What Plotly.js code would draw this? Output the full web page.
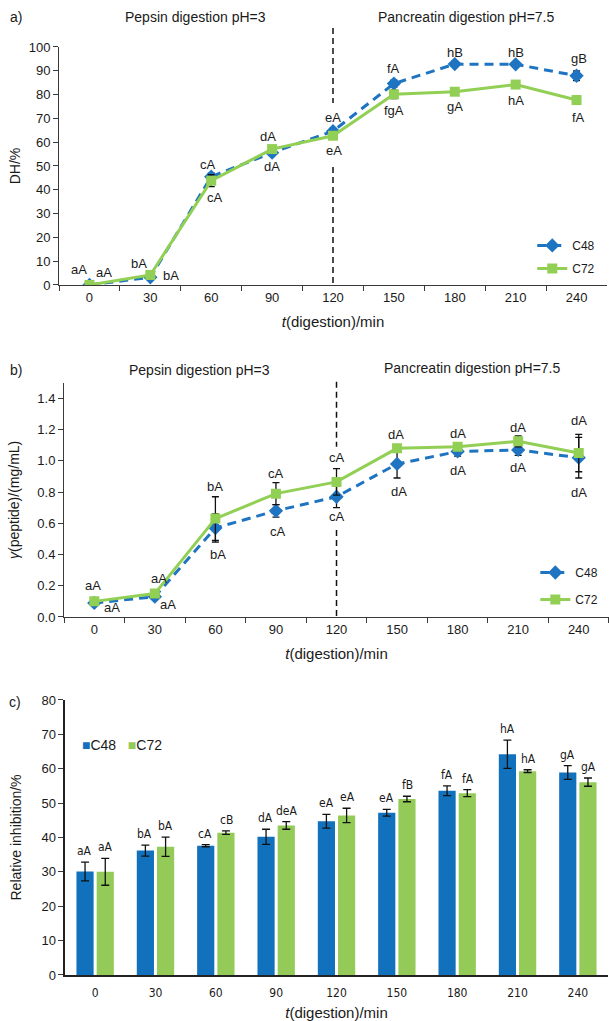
<!DOCTYPE html>
<html><head><meta charset="utf-8">
<script src="https://cdn.plot.ly/plotly-3.0.1.min.js"></script>
<style>html,body{margin:0;padding:0;background:#fff}</style>
</head><body><div id="chart" style="width:609px;height:1021px"></div>
<script>
// ---------- data ----------
const times = ['0','30','60','90','120','150','180','210','240'];
const series = ['C48','C72'];

// a) degree of hydrolysis DH/%
const dhC48    = [0, 3.2, 45.5, 55.6, 64.6, 84.6, 92.8, 92.7, 87.9];
const dhC48Err = [0.3, 0.8, 1.5, 1.0, 1.2, 1.5, 0.8, 0.8, 2.0];
const dhC72    = [0, 4.2, 43.8, 57.1, 62.7, 80.1, 81.2, 84.2, 77.7];
const dhC72Err = [0.3, 0.5, 2.5, 1.0, 1.5, 1.8, 1.5, 1.0, 1.0];
const dhLabC48 = ['aA','bA','cA','dA','eA','fA','hB','hB','gB'];
const dhLabC72 = ['aA','bA','cA','dA','eA','fgA','gA','hA','fA'];

// b) peptide concentration (mg/mL)
const pepC48    = [0.09, 0.13, 0.57, 0.68, 0.77, 0.98, 1.06, 1.07, 1.02];
const pepC48Err = [0.01, 0.01, 0.09, 0.04, 0.07, 0.09, 0.03, 0.035, 0.13];
const pepC72    = [0.10, 0.15, 0.63, 0.79, 0.865, 1.08, 1.09, 1.125, 1.05];
const pepC72Err = [0.01, 0.01, 0.14, 0.07, 0.085, 0.02, 0.02, 0.035, 0.12];
const pepLabC48 = ['aA','aA','bA','cA','cA','dA','dA','dA','dA'];
const pepLabC72 = ['aA','aA','bA','cA','cA','dA','dA','dA','dA'];

// c) relative inhibition/%
const inhC48    = [30.1, 36.2, 37.6, 40.2, 44.7, 47.2, 53.6, 64.2, 58.9];
const inhC48Err = [2.7, 1.6, 0.3, 2.2, 2.0, 1.0, 1.4, 4.1, 2.0];
const inhC72    = [30.0, 37.3, 41.4, 43.5, 46.4, 51.2, 52.9, 59.3, 56.1];
const inhC72Err = [3.9, 2.8, 0.5, 1.1, 2.1, 0.8, 1.0, 0.4, 1.2];
const inhLabC48 = ['aA','bA','cA','dA','eA','eA','fA','hA','gA'];
const inhLabC72 = ['aA','bA','cB','deA','eA','fB','fA','hA','gA'];

// ---------- label placement (pixel offsets from each point) ----------
const offA48 = [[-10,15],[-11,14],[-3,12],[0,-14],[0,14],[0,15],[0,12],[0,12],[2,17]];
const offA72 = [[15,12],[21,-1],[4,-17],[-4,13],[1,-15],[0,-16],[0,-15],[0,-16],[2,-17]];
const offB48 = [[18,-5],[13,-8],[3,-27],[2,-21],[0,-20],[2,-28],[0,-19],[0,-18],[0,-35]];
const offB72 = [[-1,16],[4,15],[0,32],[0,20],[0,24],[-1,14],[0,13],[0,14],[0,33]];

// ---------- styles ----------
const BLUE = '#1f74c2', GREEN = '#92cf55';
const BAR_BLUE = '#1271bd', BAR_GREEN = '#94cb58';
const FONT = '"Liberation Sans", Arial, sans-serif';
const NARROW = '"Liberation Sans Narrow", "DejaVu Sans Condensed", "Liberation Sans", sans-serif';
const TXT = '#1a1a1a';
const AX = '#3a3a3a';

function errBar(arr){ return {type:'data', array:arr, visible:true, color:'#111', thickness:1.3, width:3.5}; }

const traces = [
  {x:times, y:dhC48, name:series[0], xaxis:'x', yaxis:'y', legend:'legend', legendgroup:'a1',
   mode:'lines+markers', line:{color:BLUE, width:3, dash:'9px,6px'},
   marker:{symbol:'diamond', size:11, color:BLUE}, error_y:errBar(dhC48Err)},
  {x:times, y:dhC72, name:series[1], xaxis:'x', yaxis:'y', legend:'legend', legendgroup:'a2',
   mode:'lines+markers', line:{color:GREEN, width:3},
   marker:{symbol:'square', size:10, color:GREEN}, error_y:errBar(dhC72Err)},
  {x:times, y:pepC48, name:series[0], xaxis:'x2', yaxis:'y2', legend:'legend2', legendgroup:'b1',
   mode:'lines+markers', line:{color:BLUE, width:3, dash:'9px,6px'},
   marker:{symbol:'diamond', size:11, color:BLUE}, error_y:errBar(pepC48Err)},
  {x:times, y:pepC72, name:series[1], xaxis:'x2', yaxis:'y2', legend:'legend2', legendgroup:'b2',
   mode:'lines+markers', line:{color:GREEN, width:3},
   marker:{symbol:'square', size:10, color:GREEN}, error_y:errBar(pepC72Err)},
  {x:times, y:inhC48, name:series[0], xaxis:'x3', yaxis:'y3', type:'bar', showlegend:false,
   marker:{color:BAR_BLUE}, error_y:Object.assign(errBar(inhC48Err),{width:4})},
  {x:times, y:inhC72, name:series[1], xaxis:'x3', yaxis:'y3', type:'bar', showlegend:false,
   marker:{color:BAR_GREEN}, error_y:Object.assign(errBar(inhC72Err),{width:4})}
];

const annotations = [];
// category axes: annotation x given as the category index
function pointLabels(xa, ya, vals, labs, offs){
  labs.forEach((t,i)=>annotations.push({xref:xa, yref:ya, x:i, y:vals[i], text:t,
    showarrow:false, xshift:offs[i][0], yshift:offs[i][1], font:{family:FONT, size:13, color:TXT}}));
}
pointLabels('x','y',dhC48,dhLabC48,offA48);
pointLabels('x','y',dhC72,dhLabC72,offA72);
pointLabels('x2','y2',pepC48,pepLabC48,offB48);
pointLabels('x2','y2',pepC72,pepLabC72,offB72);
function barLabels(vals, errs, labs, dx){
  labs.forEach((t,i)=>annotations.push({xref:'x3', yref:'y3', x:i, y:vals[i]+errs[i], text:t,
    showarrow:false, yanchor:'bottom', xshift:dx, yshift:2, font:{family:NARROW, size:12, color:TXT}}));
}
barLabels(inhC48, inhC48Err, inhLabC48, -10.5);
barLabels(inhC72, inhC72Err, inhLabC72, 10.5);

function paperText(x, y, text, size, anchor){
  annotations.push({xref:'paper', yref:'paper', x:x, y:y, text:text, showarrow:false,
    xanchor:anchor||'center', yanchor:'middle', font:{family:FONT, size:size, color:TXT}});
}
paperText(0.0263, 0.9833, 'a)', 14);
paperText(0.3218, 0.9833, 'Pepsin digestion pH=3', 14);
paperText(0.7652, 0.9833, 'Pancreatin digestion pH=7.5', 14);
paperText(0.0263, 0.6376, 'b)', 14);
paperText(0.3268, 0.6376, 'Pepsin digestion pH=3', 14);
paperText(0.7750, 0.6396, 'Pancreatin digestion pH=7.5', 14);
paperText(0.0246, 0.3124, 'c)', 14);
// bar legend (panel c)
const nb = '\u00a0';
annotations.push({xref:'paper', yref:'paper', x:80/609, y:1-745/1021, xanchor:'left', yanchor:'middle',
  showarrow:false, font:{family:FONT, size:14, color:TXT},
  text:'<span style="color:'+BAR_BLUE+'">\u25A0</span>'+series[0]+nb+nb+nb+'<span style="color:'+BAR_GREEN+'">\u25A0</span>'+series[1]});

const dashLine = {color:'#111', width:1.5, dash:'6px,4px'};
const shapes = [
  {type:'line', xref:'x', yref:'paper', x0:4, x1:4, y0:0.9726, y1:0.899, line:dashLine, layer:'below'},
  {type:'line', xref:'x', yref:'paper', x0:4, x1:4, y0:0.8364, y1:0.7209, line:dashLine, layer:'below'},
  {type:'line', xref:'x2', yref:'paper', x0:4, x1:4, y0:0.6262, y1:0.5625, line:dashLine, layer:'below'},
  {type:'line', xref:'x2', yref:'paper', x0:4, x1:4, y0:0.4809, y1:0.3957, line:dashLine, layer:'below'}
];

function catAxis(domain, anchor, extra){
  return Object.assign({domain:domain, anchor:anchor, type:'category', range:[-0.5,8.5],
    showline:true, linecolor:AX, linewidth:1, ticks:'outside', tickson:'boundaries', ticklen:5,
    tickcolor:AX, tickfont:{family:FONT, size:13, color:TXT}, showgrid:false, zeroline:false,
    fixedrange:true,
    title:{text:'<i>t</i>(digestion)/min', font:{family:FONT, size:15, color:TXT}, standoff:12}}, extra||{});
}
function valAxis(domain, anchor, extra){
  return Object.assign({domain:domain, anchor:anchor, showline:true, linecolor:AX, linewidth:1,
    ticks:'outside', ticklen:5, tickcolor:AX, tickfont:{family:FONT, size:13, color:TXT},
    showgrid:false, zeroline:false, fixedrange:true}, extra||{});
}

const layout = {
  width:609, height:1021, margin:{l:0, r:0, t:0, b:0},
  paper_bgcolor:'#fff', plot_bgcolor:'#fff', font:{family:FONT, color:TXT},
  barmode:'group', bargap:0.33, bargroupgap:0.15,
  xaxis: catAxis([0.0969,0.9967],'y'),
  yaxis: valAxis([0.7209,0.9540],'x', {range:[0,100], dtick:10,
    title:{text:'DH/%', font:{family:FONT, size:14, color:TXT}, standoff:4}}),
  xaxis2: catAxis([0.1051,1.0],'y2'),
  yaxis2: valAxis([0.3957,0.6251],'x2', {range:[0,1.5], tickvals:[0,0.2,0.4,0.6,0.8,1.0,1.2,1.4], tickformat:'.1f',
    title:{text:'<i>γ</i>(peptide)/(mg/mL)', font:{family:FONT, size:14, color:TXT}, standoff:14}}),
  xaxis3: catAxis([0.1067,0.9984],'y3', {tickson:'labels', ticks:'outside', ticklen:6, tickcolor:'rgba(0,0,0,0)',
    linewidth:2, linecolor:'#222', tickfont:{family:NARROW, size:12, color:TXT},
    title:{text:'<i>t</i>(digestion)/min', font:{family:FONT, size:15, color:TXT}, standoff:8}}),
  yaxis3: valAxis([0.0451,0.3144],'x3', {range:[0,80], dtick:10, linewidth:1.5, linecolor:'#222',
    title:{text:'Relative inhibition/%', font:{family:FONT, size:14, color:TXT}, standoff:16}}),
  legend: {x:0.874, y:0.7738, xanchor:'left', yanchor:'top', bgcolor:'rgba(0,0,0,0)',
    font:{family:FONT, size:12, color:TXT}, traceorder:'grouped', tracegroupgap:4},
  legend2: {x:0.879, y:0.4535, xanchor:'left', yanchor:'top', bgcolor:'rgba(0,0,0,0)',
    font:{family:FONT, size:12, color:TXT}, traceorder:'grouped', tracegroupgap:8},
  annotations: annotations,
  shapes: shapes,
  showlegend: true
};

Plotly.newPlot('chart', traces, layout, {displayModeBar:false, staticPlot:true});
</script></body></html>
